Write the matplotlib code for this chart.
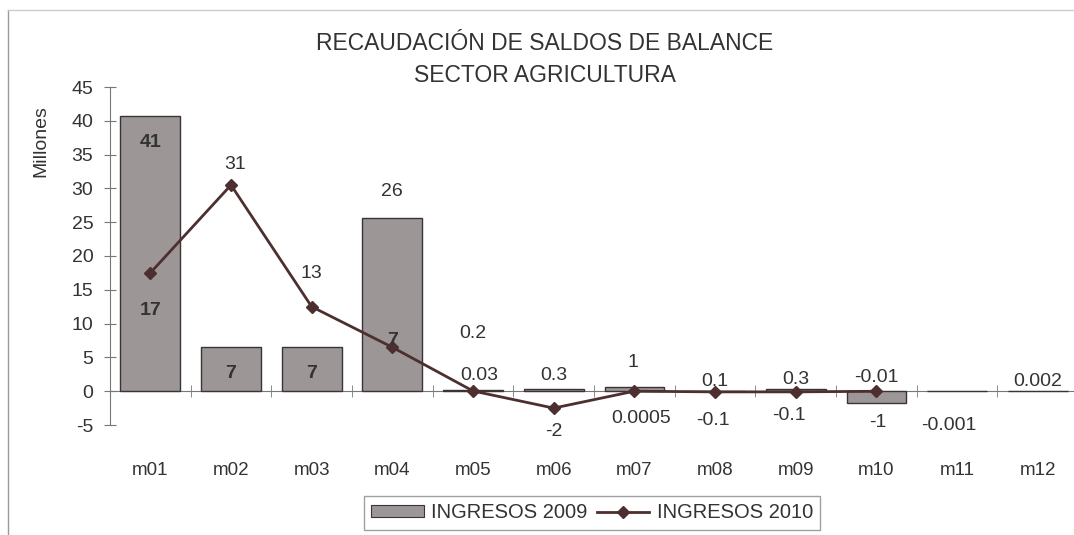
import matplotlib
matplotlib.use("Agg")
import matplotlib.pyplot as plt
from matplotlib.patches import Rectangle
from matplotlib.lines import Line2D
import numpy as np

plt.rcParams['font.family'] = ['Liberation Sans', 'DejaVu Sans']

# ---- data ----
categories = ["m01", "m02", "m03", "m04", "m05", "m06", "m07", "m08", "m09", "m10", "m11", "m12"]
ingresos_2009 = [40.7, 6.5, 6.6, 25.6, 0.2, 0.3, 0.6, 0.1, 0.3, -1.8, -0.001, 0.002]
labels_2009 = ["41", "7", "7", "26", "0.2", "0.3", "1", "0.1", "0.3", "-1", "-0.001", "0.002"]
ingresos_2010 = [17.5, 30.5, 12.5, 6.5, 0.03, -2.5, 0.0005, -0.1, -0.1, -0.01]
labels_2010 = ["17", "31", "13", "7", "0.03", "-2", "0.0005", "-0.1", "-0.1", "-0.01"]
yticks = [-5, 0, 5, 10, 15, 20, 25, 30, 35, 40, 45]
title_lines = ["RECAUDACIÓN DE SALDOS DE BALANCE", "SECTOR AGRICULTURA"]
ylabel = "Millones"
series_names = ["INGRESOS 2009", "INGRESOS 2010"]

# ---- layout (label placement, data units) ----
lab09_y = [36.8, 2.6, 2.6, 29.6, 8.5, 2.3, 4.3, 1.5, 1.8, -4.6, -5.0, 1.5]
lab09_dx = [0, 0, 0, 0, 0, 0, -0.02, 0, 0, 0.02, -0.1, 0]
lab10_y = [11.9, 33.5, 17.4, 7.5, 2.3, -6.0, -4.0, -4.3, -3.6, 2.0]
lab10_dx = [0, 0.05, 0, 0, 0.08, 0, 0.08, -0.02, -0.08, 0]

W, H = 1074, 535
fig = plt.figure(figsize=(W / 100, H / 100), dpi=100)
fig.patch.set_facecolor("white")

left_px, right_px, top_px, bot_px = 110, 1074, 87, 425
ax = fig.add_axes([left_px / W, 1 - bot_px / H, (right_px - left_px) / W, (bot_px - top_px) / H])
ax.set_facecolor("white")

x = np.arange(len(categories))
bar_col = "#9c9696"
edge_col = "#3a3434"
ax.bar(x, ingresos_2009, width=0.74, color=bar_col, edgecolor=edge_col, linewidth=1.0, zorder=2)

x10 = np.arange(len(ingresos_2010))
line_col = "#4d2f2f"
ax.plot(x10, ingresos_2010, color=line_col, linewidth=2.0, marker="D", markersize=6.5,
        markerfacecolor=line_col, markeredgecolor=line_col, zorder=4)

txt_col = "#333333"
fs = 14
for i, lab in enumerate(labels_2009):
    ax.text(x[i] + lab09_dx[i], lab09_y[i], lab, ha="center", va="center",
            fontsize=fs, color=txt_col, zorder=5,
            fontweight="bold" if i < 3 else "normal")
for i, lab in enumerate(labels_2010):
    ax.text(x10[i] + lab10_dx[i], lab10_y[i], lab, ha="center", va="center",
            fontsize=fs, color=txt_col, zorder=5,
            fontweight="bold" if i in (0, 3) else "normal")

ax.set_xlim(-0.5, len(categories) - 0.55)
ax.set_ylim(-5, 45)
ax.set_yticks(yticks)
ax.set_yticklabels([str(v) for v in yticks], fontsize=fs, color=txt_col)

for s in ["top", "right"]:
    ax.spines[s].set_visible(False)
ax.spines["left"].set_color("#777777")
ax.spines["bottom"].set_position(("data", 0))
ax.spines["bottom"].set_color("#777777")
ax.spines["bottom"].set_zorder(1)

ax.set_xticks(x)
ax.set_xticklabels(categories, fontsize=13.5, color=txt_col)
ax.set_xticks(np.arange(-0.5, len(categories) - 0.5, 1.0), minor=True)
ax.tick_params(axis="x", which="major", length=0, pad=51)
ax.tick_params(axis="x", which="minor", length=8, direction="inout", color="#777777")
ax.tick_params(axis="y", length=8, direction="inout", color="#777777", pad=8)

ax.set_ylabel(ylabel, fontsize=14, color=txt_col)
ax.yaxis.set_label_coords(-0.063, 0.84)

fig.text(545 / W, 1 - 43 / H, title_lines[0], ha="center", va="center", fontsize=16.5, color=txt_col)
fig.text(545 / W, 1 - 75 / H, title_lines[1], ha="center", va="center", fontsize=16.5, color=txt_col)

handles = [Rectangle((0, 0), 1, 1, facecolor=bar_col, edgecolor=edge_col, linewidth=0.8),
           Line2D([0], [0], color=line_col, linewidth=2.0, marker="D", markersize=6,
                  markerfacecolor=line_col)]
leg = fig.legend(handles, series_names, loc="center", bbox_to_anchor=(592 / W, 1 - 513 / H),
                 ncol=2, frameon=True, fancybox=False, fontsize=14.5, handlelength=2.6,
                 handleheight=0.55, columnspacing=0.5, handletextpad=0.35, borderpad=0.35,
                 borderaxespad=0)
leg.get_frame().set_edgecolor("#888888")
leg.get_frame().set_linewidth(1.0)
for t in leg.get_texts():
    t.set_color(txt_col)

# outer chart frame
fig.add_artist(Line2D([8 / W, 8 / W], [0, 1 - 10 / H], transform=fig.transFigure, color="#9a9a9a", linewidth=1))
fig.add_artist(Line2D([8 / W, 1], [1 - 10 / H, 1 - 10 / H], transform=fig.transFigure, color="#cccccc", linewidth=1))

fig.savefig("out.png", dpi=100)
